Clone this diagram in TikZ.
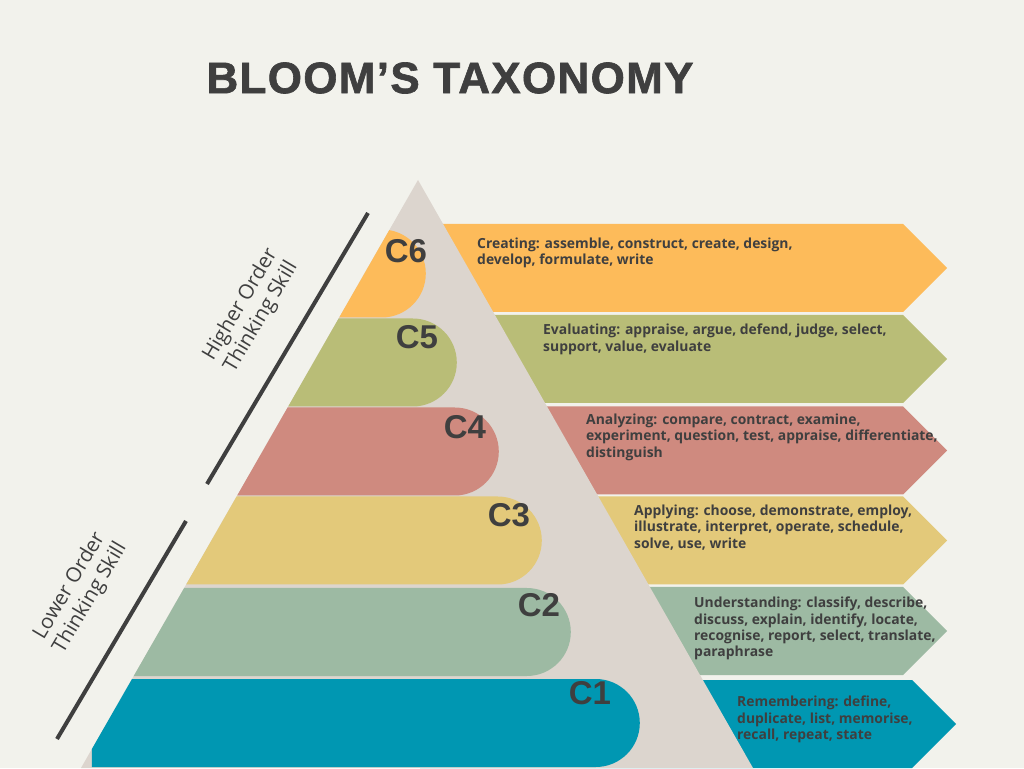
\documentclass[tikz,border=0pt]{standalone}
\usepackage{fontspec}
\usepackage{tikz}
\usetikzlibrary{shapes.misc, shapes.symbols}
\newfontfamily\headfont{Liberation Sans}
\newfontfamily\titlefont{Liberation Sans}[FakeBold=1.4, LetterSpace=3]
\newfontfamily\descfont{Open Sans}
\newfontfamily\sidefont{Open Sans}
\definecolor{paper}{HTML}{F2F2EC}
\definecolor{ink}{HTML}{3F3F3F}
\definecolor{taupe}{HTML}{DCD5CE}
\definecolor{lvlsix}{HTML}{FDBB5A}
\definecolor{lvlfive}{HTML}{B9BD77}
\definecolor{lvlfour}{HTML}{CF8A7F}
\definecolor{lvlthree}{HTML}{E3C97A}
\definecolor{lvltwo}{HTML}{9DBAA3}
\definecolor{lvlone}{HTML}{0097B2}

\begin{document}
\begin{tikzpicture}[
  x=1pt, y=1pt,
  band/.style={rounded rectangle, rounded rectangle west arc=none, minimum height=88pt, minimum width=600pt, inner sep=0pt, anchor=east},
  chevron/.style={signal, signal to=east, signal pointer angle=90, minimum height=88pt, minimum width=527pt, inner sep=0pt, anchor=west},
  level/.style={font=\headfont\bfseries\fontsize{33}{33}\selectfont, text=ink, inner sep=0pt},
  desc/.style={anchor=north west, align=left, inner sep=0pt, text=ink, font=\descfont\bfseries\fontsize{13.9}{16.2}\selectfont},
  side/.style={align=center, rotate=59.3, text=ink, inner sep=0pt, font=\sidefont\fontsize{20.5}{24}\selectfont},
  rule/.style={draw=ink, line width=4pt},
]

% Page
\fill[paper] (0,0) rectangle (1024,768);
\useasboundingbox (0,0) rectangle (1024,768);

% Arrows on the right
\node[chevron, fill=lvlsix] (a6) at (420,500) {};
\node[chevron, fill=lvlfive] (a5) at (420,409) {};
\node[chevron, fill=lvlfour] (a4) at (420,317.5) {};
\node[chevron, fill=lvlthree] (a3) at (420,227.5) {};
\node[chevron, fill=lvltwo] (a2) at (420,137) {};
\node[chevron, fill=lvlone, minimum width=536pt] (a1) at (420,44) {};

% Pyramid
\coordinate (apex) at (418,588);
\coordinate (bl) at (81,0);
\coordinate (br) at (753,0);
\fill[taupe] (apex) -- (bl) -- (br) -- cycle;

% Bands inside the pyramid
\begin{scope}
  \clip (apex) -- (bl) -- (br) -- cycle;
  \node[band, fill=lvlsix] (b6) at (426,494.5) {};
  \node[band, fill=lvlfive] (b5) at (457,405.5) {};
  \node[band, fill=lvlfour] (b4) at (499,316.5) {};
  \node[band, fill=lvlthree] (b3) at (542,227.5) {};
  \node[band, fill=lvltwo] (b2) at (571,136) {};
  \node[band, fill=lvlone, minimum width=548pt] (b1) at (640,45) {};
\end{scope}

% Level labels
\node[level] (c6) at (406,517) {C6};
\node[level] (c5) at (417,431) {C5};
\node[level] (c4) at (465,341) {C4};
\node[level] (c3) at (509,253) {C3};
\node[level] (c2) at (539,163) {C2};
\node[level] (c1) at (590,75) {C1};

% Descriptions
\node[desc] (t6) at (477,530) {Creating: assemble, construct, create, design,\\develop, formulate, write};
\node[desc] (t5) at (543,444) {Evaluating: appraise, argue, defend, judge, select,\\support, value, evaluate};
\node[desc] (t4) at (586,354) {Analyzing: compare, contract, examine,\\experiment, question, test, appraise, differentiate,\\distinguish};
\node[desc] (t3) at (634,263) {Applying: choose, demonstrate, employ,\\illustrate, interpret, operate, schedule,\\solve, use, write};
\node[desc] (t2) at (694,171) {Understanding: classify, describe,\\discuss, explain, identify, locate,\\recognise, report, select, translate,\\paraphrase};
\node[desc] (t1) at (737,72) {Remembering: define,\\duplicate, list, memorise,\\recall, repeat, state};

% Thinking skill markers
\coordinate (hi1) at (368,555);
\coordinate (hi2) at (207,284);
\coordinate (lo1) at (186,247);
\coordinate (lo2) at (57,29);
\draw[rule] (hi1) -- (hi2);
\draw[rule] (lo1) -- (lo2);
\node[side] (hot) at (251,457) {Higher Order\\Thinking Skill};
\node[side] (lot) at (80,176) {Lower Order\\Thinking Skill};

% Title
\node[text=ink, inner sep=0pt, font=\titlefont\bfseries\fontsize{44}{44}\selectfont] (title) at (450,690) {BLOOM’S TAXONOMY};

\end{tikzpicture}
\end{document}
